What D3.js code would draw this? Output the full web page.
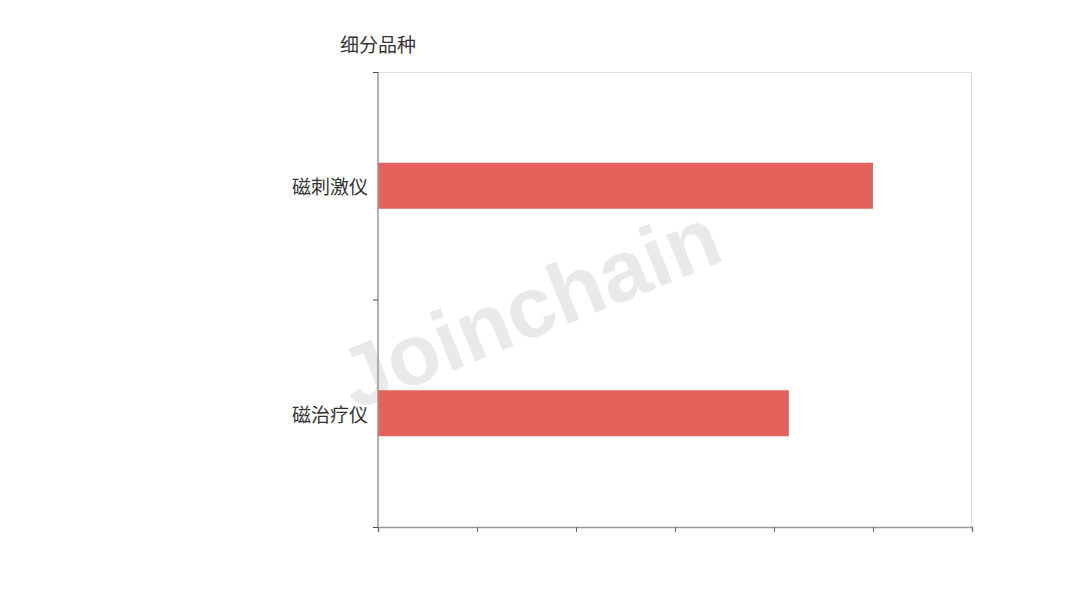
<!DOCTYPE html>
<html><head><meta charset="utf-8">
<script src="https://cdn.jsdelivr.net/npm/d3@7/dist/d3.min.js"></script>
<style>body{margin:0;background:#fff;} svg{display:block;}</style>
</head><body>
<svg id="chart" width="1080" height="600"></svg>
<script>
const categories = ["磁刺激仪", "磁治疗仪"];
const values = [5, 4.15];
const xTicks = [0, 1, 2, 3, 4, 5, 6];
const axisTitle = "细分品种";

const svg = d3.select("#chart");
const m = {left: 378, right: 972, top: 72, bottom: 527};
const font = "'Noto Sans CJK SC', 'Noto Sans', sans-serif";

const x = d3.scaleLinear().domain([0, 6]).range([m.left, m.right]);
const y = d3.scaleBand().domain(categories).range([m.top, m.bottom]);

// frame (top & right light borders)
svg.append("line").attr("x1", m.left).attr("x2", m.right).attr("y1", m.top + 0.5).attr("y2", m.top + 0.5)
  .attr("stroke", "#dcdcdc").attr("stroke-width", 1);
svg.append("line").attr("x1", m.right - 0.5).attr("x2", m.right - 0.5).attr("y1", m.top).attr("y2", m.bottom)
  .attr("stroke", "#dcdcdc").attr("stroke-width", 1);

// watermark
const wm = svg.append("g").attr("transform", "translate(532,314) rotate(-22)");
wm.append("text").attr("text-anchor", "middle").attr("dominant-baseline", "middle")
  .attr("font-family", "'Liberation Sans', Arial, sans-serif").attr("font-weight", "bold")
  .attr("font-size", 86).attr("fill", "#e9e9e9").text("Joinchain");
wm.append("text").attr("x", 200).attr("y", -42).attr("text-anchor", "middle")
  .attr("font-family", "'Liberation Sans', Arial, sans-serif")
  .attr("font-size", 16).attr("fill", "#e2e2e2").text("®");

// bars
const barH = 46;
svg.append("g").selectAll("rect").data(categories).join("rect")
  .attr("x", x(0))
  .attr("y", d => y(d) + y.bandwidth() / 2 - barH / 2)
  .attr("width", (d, i) => x(values[i]) - x(0))
  .attr("height", barH)
  .attr("fill", "#e5625c");

// x axis
const xAxis = svg.append("g").attr("transform", `translate(0,${m.bottom})`)
  .call(d3.axisBottom(x).tickValues(xTicks).tickSize(5).tickFormat(""));
xAxis.select(".domain").attr("stroke", "#999").attr("stroke-width", 1.5);
xAxis.selectAll(".tick line").attr("stroke", "#666");

// y axis ticks at band boundaries
const yAxis = svg.append("g").attr("transform", `translate(${m.left},0)`);
yAxis.append("line").attr("x1", 0).attr("x2", 0).attr("y1", m.top).attr("y2", m.bottom)
  .attr("stroke", "#999").attr("stroke-width", 1.5);
const bounds = [m.top, m.top + y.step(), m.bottom];
yAxis.selectAll(".yt").data(bounds).join("line").attr("class", "yt")
  .attr("x1", -5).attr("x2", 0).attr("y1", d => d + 0.5).attr("y2", d => d + 0.5)
  .attr("stroke", "#555");
yAxis.selectAll(".yl").data(categories).join("text").attr("class", "yl")
  .attr("x", -10).attr("y", d => y(d) + y.bandwidth() / 2)
  .attr("text-anchor", "end").attr("dominant-baseline", "central")
  .attr("font-family", font).attr("font-size", 19).attr("fill", "#333").text(d => d);

// axis title
svg.append("text").attr("x", 340).attr("y", 43).attr("dominant-baseline", "central")
  .attr("font-family", font).attr("font-size", 19).attr("fill", "#333").text(axisTitle);
</script>
</body></html>
